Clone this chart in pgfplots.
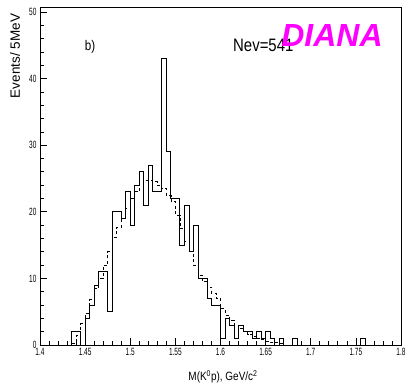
\documentclass[border=0pt]{standalone}
\usepackage{pgfplots}
\pgfplotsset{compat=1.18}
\usepackage{fontspec}
\setmainfont{Liberation Sans}
\newfontfamily\narrowfont[FakeStretch=0.62]{Liberation Sans}
\newfontfamily\midfont[FakeStretch=0.83]{Liberation Sans}
\newcommand\tickfont{\narrowfont\fontsize{10.5bp}{12bp}\selectfont}
\definecolor{diana}{RGB}{255,0,255}
\begin{document}
\begin{tikzpicture}
\begin{axis}[
  scale only axis,
  width=361bp, height=338bp,
  xmin=1.4, xmax=1.8, ymin=0, ymax=50.75,
  xtick={1.4,1.45,1.5,1.55,1.6,1.65,1.7,1.75,1.8},
  xticklabels={\tickfont 1.4,\tickfont 1.45,\tickfont 1.5,\tickfont 1.55,\tickfont 1.6,\tickfont 1.65,\tickfont 1.7,\tickfont 1.75,\tickfont 1.8},
  ytick={0,10,20,30,40,50},
  yticklabels={\tickfont 0,\tickfont 10,\tickfont 20,\tickfont 30,\tickfont 40,\tickfont 50},
  minor x tick num=4, minor y tick num=4,
  tick align=inside, tick pos=left,
  major tick length=7.5bp, minor tick length=4bp,
  axis line style={line width=0.8bp},
  every tick/.style={black, line width=0.7bp},
  /pgf/number format/assume math mode=true,
  tick label style={font=\tickfont},
]
\addplot[const plot mark left, line width=0.8bp, black] coordinates {
(1.43,0)(1.435,2)(1.44,2)(1.445,0)(1.45,4)(1.455,6)(1.46,9)(1.465,11)(1.47,11)(1.475,5)
(1.48,20)(1.485,20)(1.49,19)(1.495,23)(1.5,18)(1.505,24)(1.51,26)(1.515,21)(1.52,27)(1.525,23)
(1.53,23)(1.535,43)(1.54,29)(1.545,22)(1.55,22)(1.555,15)(1.56,21)(1.565,14)(1.57,18)(1.575,10)
(1.58,10)(1.585,7)(1.59,6)(1.595,6)(1.6,1)(1.605,4)(1.61,3)(1.615,1)(1.62,3)(1.625,2)
(1.63,2)(1.635,1)(1.64,2)(1.645,1)(1.65,2)(1.655,1)(1.66,0)(1.665,1)(1.67,0)(1.68,1)
(1.685,0)(1.755,1)(1.76,0)(1.8,0)};
\addplot[const plot mark left, line width=0.7bp, black, dash pattern=on 3bp off 2.5bp] coordinates {
(1.435,0.3)(1.44,1.5)(1.445,3.2)(1.45,4.8)(1.455,6.8)(1.46,8.5)(1.465,10)(1.47,12)(1.475,14)
(1.48,16.2)(1.485,17.7)(1.49,19)(1.495,20.5)(1.5,22)(1.505,23)(1.51,24.3)(1.515,24.7)(1.52,24.7)(1.525,24.5)
(1.53,24)(1.535,23.5)(1.54,22.5)(1.545,21.5)(1.55,19.5)(1.555,17.5)(1.56,15.5)(1.565,14)(1.57,12)(1.575,10.5)
(1.58,9.5)(1.585,8.7)(1.59,7.8)(1.595,7)(1.6,5.5)(1.605,4.5)(1.61,3.7)(1.615,3)(1.62,2.5)(1.625,2)
(1.63,1.6)(1.635,1.3)(1.64,1)(1.645,0.8)(1.65,0.6)(1.655,0.45)(1.66,0.35)(1.665,0.25)(1.67,0.2)};
\end{axis}
\coordinate (O) at (current axis.south west);
\node[font=\midfont\fontsize{14bp}{16bp}\selectfont] at ([shift={(50bp,298bp)}]O) {b)};
\node[anchor=west, inner sep=0pt, font=\midfont\fontsize{18bp}{20bp}\selectfont] at ([shift={(193bp,300bp)}]O) {Nev=541};
\node[text=diana, font=\bfseries\itshape\fontsize{32bp}{34bp}\selectfont] at ([shift={(292bp,310bp)}]O) {DIANA};
\node[rotate=90, font=\fontsize{13.5bp}{15bp}\selectfont] at ([shift={(-25bp,289bp)}]O) {Events/ 5MeV};
\node[font=\midfont\fontsize{12bp}{14bp}\selectfont] at ([shift={(183bp,-32bp)}]O) {M(K\textsuperscript{0}p), GeV/c\textsuperscript{2}};
\pgfresetboundingbox
\useasboundingbox ([shift={(-40bp,-40bp)}]O) rectangle ([shift={(366bp,345bp)}]O);
\end{tikzpicture}
\end{document}
